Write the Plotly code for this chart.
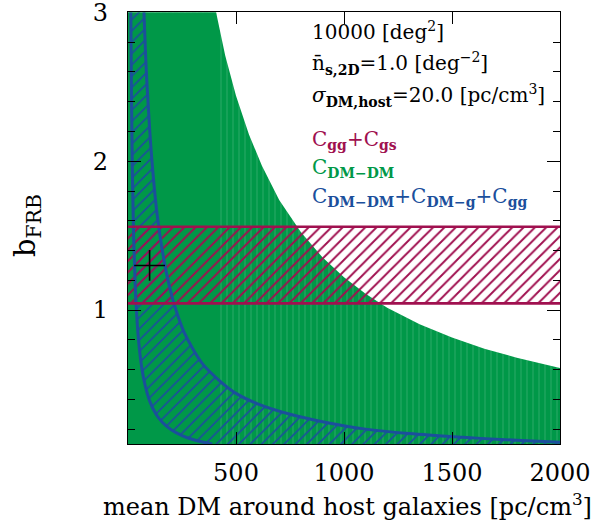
import plotly.graph_objects as go

# ---- data -------------------------------------------------------------
# C_DM-DM constraint: upper envelope of the allowed b_FRB (green region)
green_dm = [408, 450, 500, 560, 620, 700, 800, 900, 1000, 1100, 1200,
            1350, 1500, 1650, 1800, 2000]
green_b = [3.00, 2.71, 2.44, 2.18, 1.97, 1.74, 1.525, 1.355, 1.22, 1.11,
           1.015, 0.905, 0.815, 0.74, 0.68, 0.61]

# C_DM-DM + C_DM-g + C_gg constraint (blue hatched band)
blue_lo_dm = [13, 16, 20, 26, 33, 40, 50, 65, 80, 100, 130, 160, 200, 250,
              300, 360, 390]
blue_lo_b = [3.00, 2.44, 1.95, 1.50, 1.18, 0.975, 0.78, 0.60, 0.49, 0.39,
             0.30, 0.244, 0.195, 0.156, 0.13, 0.108, 0.10]
blue_hi_dm = [74, 85, 100, 115, 135, 160, 190, 222, 260, 300, 350, 420, 500,
              600, 750, 900, 1100, 1300, 1550, 1800, 2000]
blue_hi_b = [3.00, 2.60, 2.22, 1.93, 1.64, 1.39, 1.17, 1.00, 0.85, 0.74,
             0.63, 0.53, 0.44, 0.37, 0.30, 0.25, 0.20, 0.17, 0.145, 0.125,
             0.112]

# C_gg + C_gs constraint (red hatched band)
red_dm = [0, 2000]
red_lo = 1.045
red_hi = 1.56

# fiducial model
fid_dm = [100]
fid_b = [1.30]

X_RANGE = [0, 2000]
Y_RANGE = [0.1, 3.003]

# ---- style ------------------------------------------------------------
GREEN = "#009848"
BLUE = "#1b4f9c"
RED = "#a0104f"
FONT = "DejaVu Serif"

fig = go.Figure()

# green region: striped envelope, with the part where the curve runs
# above the frame covered by a solid block
fig.add_trace(go.Scatter(
    x=[X_RANGE[0]] + green_dm, y=[green_b[0]] + green_b,
    mode="none", fill="tozeroy", fillcolor=GREEN,
    fillpattern=dict(shape="|", size=6, solidity=0.16, fgcolor="white",
                     fgopacity=0.18, bgcolor=GREEN),
    hoverinfo="skip"))
fig.add_trace(go.Scatter(
    x=[X_RANGE[0], green_dm[0]], y=[green_b[0], green_b[0]],
    mode="none", fill="tozeroy", fillcolor=GREEN, hoverinfo="skip"))

# blue hatched band between the two curves
poly_x = blue_hi_dm + [blue_hi_dm[-1], blue_lo_dm[-1]] + blue_lo_dm[::-1]
poly_y = blue_hi_b + [0, 0] + blue_lo_b[::-1]
fig.add_trace(go.Scatter(
    x=poly_x, y=poly_y, mode="none", fill="toself",
    fillcolor="rgba(0,0,0,0)",
    fillpattern=dict(shape="/", size=8, solidity=0.22, fgcolor=BLUE,
                     fgopacity=1, bgcolor="rgba(0,0,0,0)"),
    hoverinfo="skip"))

# red hatched band
fig.add_trace(go.Scatter(
    x=[red_dm[0], red_dm[1], red_dm[1], red_dm[0], red_dm[0]],
    y=[red_lo, red_lo, red_hi, red_hi, red_lo],
    mode="none", fill="toself", fillcolor="rgba(0,0,0,0)",
    fillpattern=dict(shape="/", size=8, solidity=0.24, fgcolor=RED,
                     fgopacity=1, bgcolor="rgba(0,0,0,0)"),
    hoverinfo="skip"))

# blue boundary curves
for xs, ys in [(blue_lo_dm, blue_lo_b), (blue_hi_dm, blue_hi_b)]:
    fig.add_trace(go.Scatter(x=xs, y=ys, mode="lines", line_shape="spline",
                             line=dict(color=BLUE, width=3),
                             hoverinfo="skip"))

# red band edges
for yv in (red_lo, red_hi):
    fig.add_trace(go.Scatter(x=red_dm, y=[yv, yv], mode="lines",
                             line=dict(color=RED, width=2.6),
                             hoverinfo="skip"))

# fiducial point
fig.add_trace(go.Scatter(
    x=fid_dm, y=fid_b, mode="markers",
    marker=dict(symbol="cross-thin", size=22,
                line=dict(color="black", width=1.6)),
    hoverinfo="skip"))

# ---- axes -------------------------------------------------------------
axis_common = dict(
    showgrid=False, zeroline=False, showline=True, linecolor="black",
    linewidth=1.2, mirror="allticks", ticks="inside", tickcolor="black",
    tickfont=dict(family=FONT, size=24, color="black"),
    ticklabeloverflow="allow", automargin=False,
)
fig.update_xaxes(range=X_RANGE, tickvals=[500, 1000, 1500, 2000],
                 ticklen=12, tickwidth=1.2, ticklabelstandoff=7,
                 **axis_common)
fig.update_yaxes(range=Y_RANGE, tickvals=[1, 2, 3],
                 ticklen=13, tickwidth=1.2, ticklabelstandoff=14,
                 minor=dict(tick0=0, dtick=0.2, ticks="inside", ticklen=7,
                            tickcolor="black", tickwidth=1.2,
                            showgrid=False),
                 **axis_common)

# ---- text ---------------------------------------------------------------
L, R, T, B = 128, 560, 12, 444


def px(xpix):
    return (xpix - L) / (R - L)


def py(ypix):
    return (B - ypix) / (B - T)


annotations = [
    dict(text="mean DM around host galaxies [pc/cm<sup>3</sup>]",
         x=px(347), y=py(505), size=24, color="black", xanchor="center"),
    dict(text="b<sub>FRB</sub>", x=px(27), y=py(226), size=29,
         color="black", xanchor="center", textangle=-90),
    dict(text="10000 [deg<sup>2</sup>]", x=px(310), y=py(31), size=20,
         color="black", xanchor="left"),
    dict(text="n\u0304<sub><b>s,2D</b></sub>=1.0 [deg<sup>\u22122</sup>]",
         x=px(310), y=py(64), size=20, color="black", xanchor="left"),
    dict(text="<i>\u03c3</i><sub><b>DM,host</b></sub>=20.0 [pc/cm<sup>3</sup>]",
         x=px(310), y=py(96), size=20, color="black", xanchor="left"),
    dict(text="C<sub><b>gg</b></sub>+C<sub><b>gs</b></sub>",
         x=px(310), y=py(140), size=20, color=RED, xanchor="left"),
    dict(text="C<sub><b>DM\u2212DM</b></sub>",
         x=px(310), y=py(168), size=20, color=GREEN, xanchor="left"),
    dict(text="C<sub><b>DM\u2212DM</b></sub>+C<sub><b>DM\u2212g</b></sub>"
              "+C<sub><b>gg</b></sub>",
         x=px(310), y=py(197), size=20, color=BLUE, xanchor="left"),
]
for a in annotations:
    fig.add_annotation(
        text=a["text"], x=a["x"], y=a["y"], xref="paper", yref="paper",
        xanchor=a["xanchor"], yanchor="middle", showarrow=False,
        textangle=a.get("textangle", 0),
        font=dict(family=FONT, size=a["size"], color=a["color"]))

fig.update_layout(
    width=599, height=525, showlegend=False,
    paper_bgcolor="white", plot_bgcolor="white",
    margin=dict(l=L, r=599 - R, t=T, b=525 - B, pad=0, autoexpand=False),
)

fig.write_html("out.html")
